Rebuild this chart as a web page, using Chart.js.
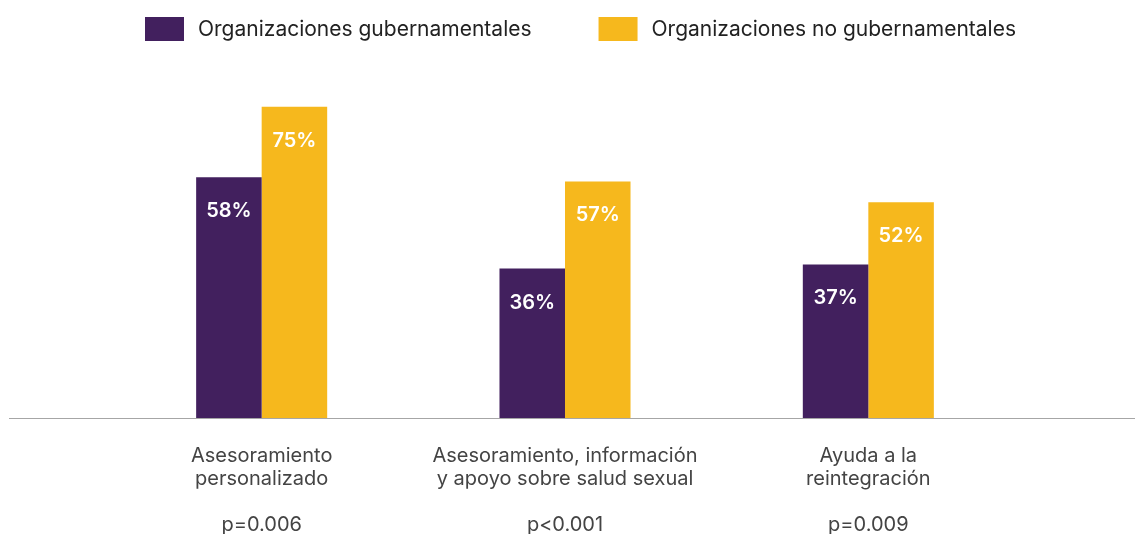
<!DOCTYPE html>
<html>
<head>
<meta charset="utf-8">
<script src="https://cdn.jsdelivr.net/npm/chart.js@4/dist/chart.umd.min.js"></script>
<style>
  html, body { margin: 0; padding: 0; background: #fff; }
  #wrap { width: 1135px; height: 534px; }
</style>
</head>
<body>
<div id="wrap"><canvas id="chart"></canvas></div>
<script>
const categories = [
  ['Asesoramiento', 'personalizado'],
  ['Asesoramiento, información', 'y apoyo sobre salud sexual'],
  ['Ayuda a la', 'reintegración']
];
const pValues = ['p=0.006', 'p<0.001', 'p=0.009'];
const seriesNames = ['Organizaciones gubernamentales', 'Organizaciones no gubernamentales'];
const gubernamentales = [58, 36, 37];
const noGubernamentales = [75, 57, 52];

const PURPLE = '#42205e';
const YELLOW = '#f6b81d';
const FONT = 'Inter, "Noto Sans", sans-serif';

// value labels inside top of each bar
const barLabels = {
  id: 'barLabels',
  afterDatasetsDraw(chart) {
    const ctx = chart.ctx;
    ctx.save();
    ctx.fillStyle = '#fff';
    ctx.font = '600 20px ' + FONT;
    ctx.textAlign = 'center';
    ctx.textBaseline = 'middle';
    chart.data.datasets.forEach((ds, i) => {
      chart.getDatasetMeta(i).data.forEach((bar, j) => {
        ctx.fillText(ds.data[j] + '%', bar.x, bar.y + 34);
      });
    });
    ctx.restore();
  }
};

// baseline running the full width
const baseline = {
  id: 'baseline',
  afterDatasetsDraw(chart) {
    const ctx = chart.ctx;
    const y = Math.round(chart.scales.y.getPixelForValue(0));
    ctx.save();
    ctx.strokeStyle = '#a6a6a6';
    ctx.lineWidth = 1.2;
    ctx.beginPath();
    ctx.moveTo(9, y + 0.5);
    ctx.lineTo(chart.width, y + 0.5);
    ctx.stroke();
    ctx.restore();
  }
};

// legend drawn in one row across the top
const topLegend = {
  id: 'topLegend',
  afterDraw(chart) {
    const ctx = chart.ctx;
    ctx.save();
    ctx.font = '21px ' + FONT;
    ctx.textBaseline = 'middle';
    let x = 145;
    chart.data.datasets.forEach(ds => {
      ctx.fillStyle = ds.backgroundColor;
      ctx.fillRect(x, 17, 39, 24);
      ctx.fillStyle = '#222';
      ctx.fillText(ds.label, x + 53, 30);
      x += 53 + ctx.measureText(ds.label).width + 67;
    });
    ctx.restore();
  }
};

new Chart(document.getElementById('chart'), {
  type: 'bar',
  data: {
    labels: categories.map((c, i) => [...c, '', pValues[i]]),
    datasets: [
      { label: seriesNames[0], data: gubernamentales, backgroundColor: PURPLE },
      { label: seriesNames[1], data: noGubernamentales, backgroundColor: YELLOW }
    ]
  },
  options: {
    responsive: true,
    maintainAspectRatio: false,
    animation: false,
    layout: { padding: { left: 110, right: 115, top: 86, bottom: -28 } },
    datasets: { bar: { barPercentage: 1, categoryPercentage: 0.432 } },
    scales: {
      x: {
        grid: { display: false, drawTicks: false },
        border: { display: false },
        ticks: {
          color: '#444',
          font: { family: FONT, size: 20, lineHeight: 1.15 },
          padding: 26,
          maxRotation: 0,
          autoSkip: false
        }
      },
      y: {
        display: false,
        min: 0,
        max: 80
      }
    },
    plugins: {
      legend: { display: false },
      tooltip: { enabled: false }
    }
  },
  plugins: [barLabels, baseline, topLegend]
});
</script>
</body>
</html>
